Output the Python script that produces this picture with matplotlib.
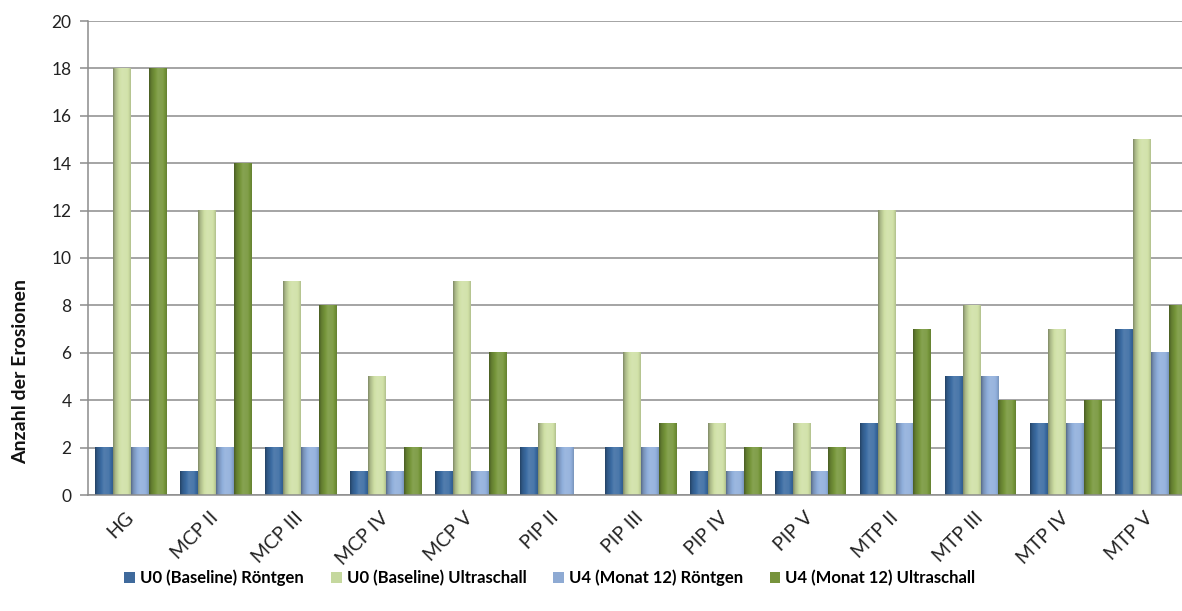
import numpy as np
import matplotlib
matplotlib.use("Agg")
import matplotlib.pyplot as plt
from matplotlib.patches import Patch
from matplotlib.colors import to_rgb
from matplotlib.transforms import ScaledTranslation

plt.rcParams['font.family'] = ['Lato', 'DejaVu Sans']

categories = ["HG", "MCP II", "MCP III", "MCP IV", "MCP V", "PIP II", "PIP III",
              "PIP IV", "PIP V", "MTP II", "MTP III", "MTP IV", "MTP V"]
u0_xray = [2, 1, 2, 1, 1, 2, 2, 1, 1, 3, 5, 3, 7]
u0_us = [18, 12, 9, 5, 9, 3, 6, 3, 3, 12, 8, 7, 15]
u4_xray = [2, 2, 2, 1, 1, 2, 2, 1, 1, 3, 5, 3, 6]
u4_us = [18, 14, 8, 2, 6, 0, 3, 2, 2, 7, 4, 4, 8]
series_names = ["U0 (Baseline) Röntgen", "U0 (Baseline) Ultraschall",
                "U4 (Monat 12) Röntgen", "U4 (Monat 12) Ultraschall"]
series = [u0_xray, u0_us, u4_xray, u4_us]
colors = ["#3B6CA3", "#CFE0A5", "#8FAEDB", "#76963A"]
legend_colors = ["#3F6A9C", "#C5D89E", "#8EAAD3", "#77933C"]
yticks = list(range(0, 21, 2))


def shaded_strip(color, n=48):
    """Horizontal shading across a bar: darker left edge, bright middle."""
    base = np.array(to_rgb(color))
    t = np.linspace(0, 1, n)
    f = np.interp(t, [0, 0.12, 0.5, 0.78, 1.0], [0.62, 0.82, 1.12, 1.08, 0.86])
    out = np.empty((1, n, 3))
    for k, fk in enumerate(f):
        if fk <= 1:
            out[0, k] = base * fk
        else:
            out[0, k] = base + (1 - base) * (fk - 1)
    return np.clip(out, 0, 1)


fig = plt.figure(figsize=(11.82, 6.11), dpi=100)
ax = fig.add_axes([88 / 1182, (611 - 495) / 611, 1105 / 1182, 474 / 611])

n_cat = len(categories)
bar_w = 18 / 85
x = np.arange(n_cat)
for j, vals in enumerate(series):
    strip = shaded_strip(colors[j])
    for i, v in enumerate(vals):
        if v <= 0:
            continue
        x0 = x[i] + (j - 2) * bar_w
        ax.imshow(strip, extent=(x0, x0 + bar_w, 0, v), aspect='auto',
                  interpolation='bilinear', zorder=2)

ax.set_xlim(-0.5, n_cat - 0.5)
ax.set_ylim(0, 20)
ax.set_yticks(yticks)
ax.yaxis.grid(True, color="#8C8C8C", linewidth=1.1)
ax.set_axisbelow(True)

for side in ["top", "right"]:
    ax.spines[side].set_visible(False)
ax.spines["left"].set_color("#8C8C8C")
ax.spines["bottom"].set_color("#8C8C8C")
ax.spines["left"].set_linewidth(1.1)
ax.spines["bottom"].set_linewidth(1.1)

ax.tick_params(axis='y', length=5.8, width=1.1, color="#8C8C8C", pad=6,
               labelsize=12.5, labelcolor="#222222")
ax.set_xticks(x)
ax.set_xticklabels(categories, rotation=45, ha='right', va='top',
                   rotation_mode='anchor', fontsize=14, color="#222222")
ax.tick_params(axis='x', length=0, pad=10)
shift = ScaledTranslation(-6 / 100, 0, fig.dpi_scale_trans)
for lbl in ax.get_xticklabels():
    lbl.set_transform(lbl.get_transform() + shift)

fig.text(21 / 1182, (611 - 372) / 611, "Anzahl der Erosionen", rotation=90,
         ha='center', va='center', fontsize=14, fontweight='bold', color="#111111")

handles = [Patch(facecolor=c, edgecolor='none') for c in legend_colors]
fig.legend(handles, series_names, loc='center', bbox_to_anchor=(550 / 1182, (611 - 578) / 611),
           ncol=4, frameon=False, handlelength=0.65, handleheight=0.65, handletextpad=0.3,
           columnspacing=1.6, prop={'weight': 'bold', 'size': 12})

fig.savefig("out.png", dpi=100, facecolor='white')
